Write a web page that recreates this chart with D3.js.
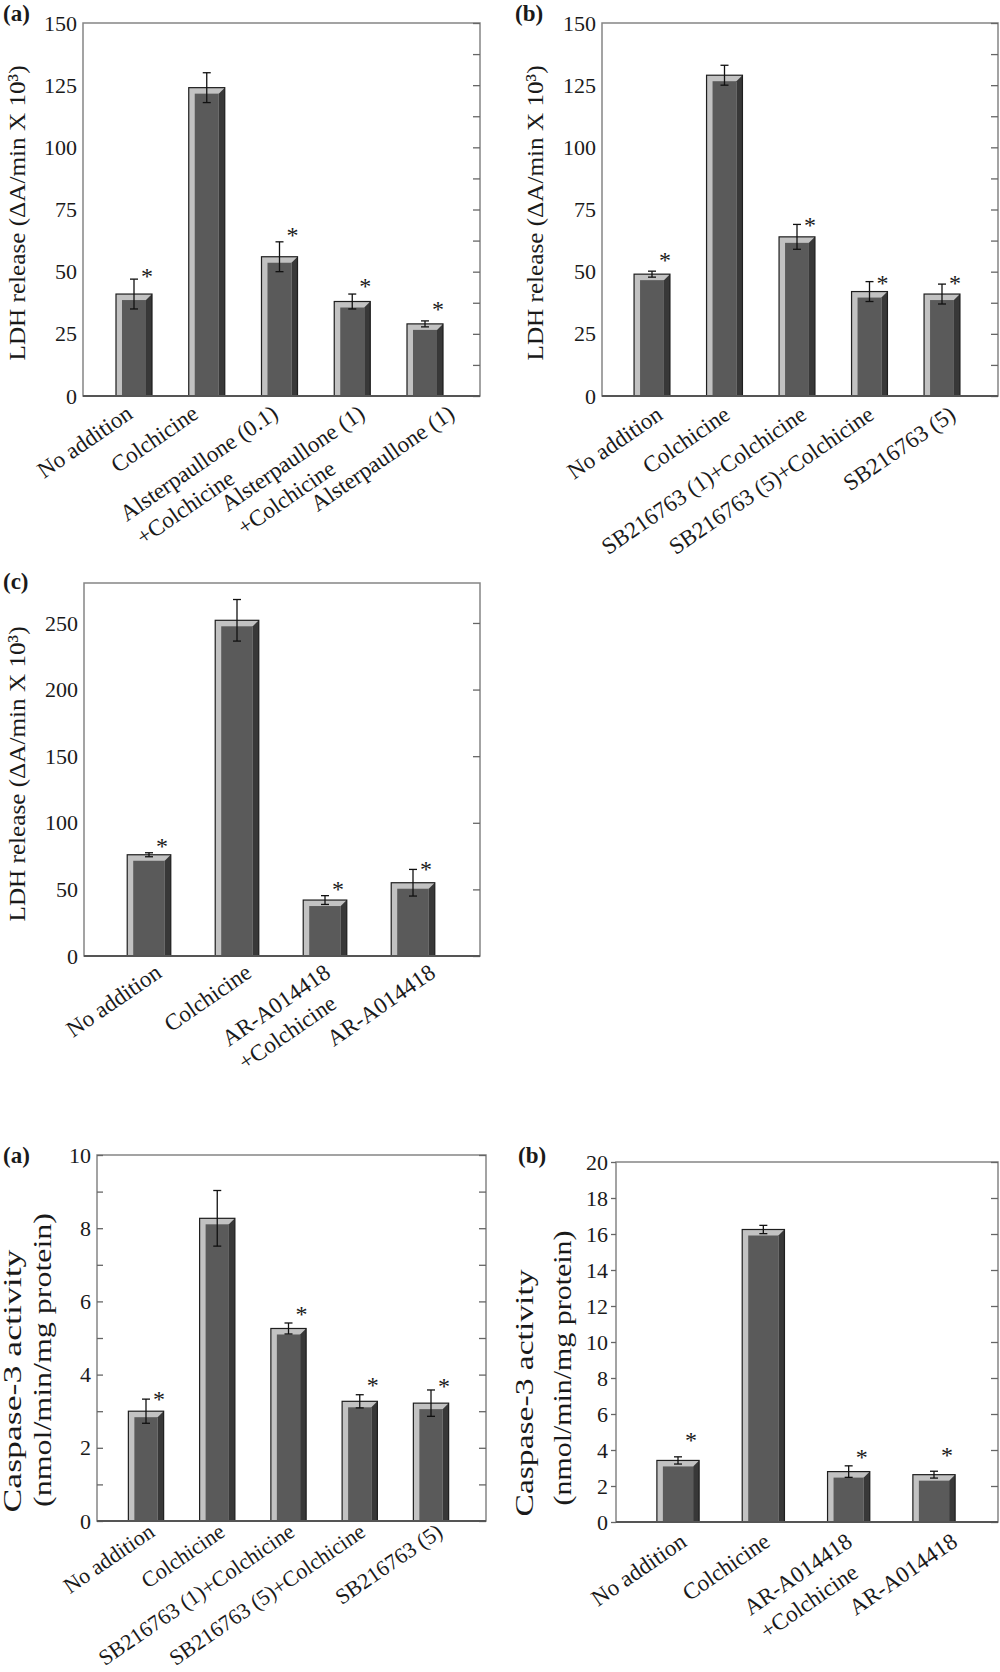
<!DOCTYPE html>
<html><head><meta charset="utf-8">
<script src="https://cdn.jsdelivr.net/npm/d3@7"></script>
<style>
body{margin:0;background:#fff}
svg{display:block}
text{font-family:"Liberation Serif","Times New Roman",serif;fill:#1a1a1a}
</style>
</head><body>
<svg id="fig" width="1000" height="1672"></svg>
<script>
// ---------------- DATA ----------------
const ldhA_categories = [["No addition"], ["Colchicine"], ["Alsterpaullone (0.1)", "+Colchicine"], ["Alsterpaullone (1)", "+Colchicine"], ["Alsterpaullone (1)"]];
const ldhA_values = [41, 124, 56, 38, 29];
const ldhA_errors = [6, 6, 6, 3, 1.2];
const ldhA_stars  = [49.3, null, 65.9, 45.4, 36.2];

const ldhB_categories = [["No addition"], ["Colchicine"], ["SB216763 (1)+Colchicine"], ["SB216763 (5)+Colchicine"], ["SB216763 (5)"]];
const ldhB_values = [49, 129, 64, 42, 41];
const ldhB_errors = [1.2, 4, 5, 4, 4];
const ldhB_stars  = [55.8, null, 69.8, 46.5, 46.5];

const ldhC_categories = [["No addition"], ["Colchicine"], ["AR-A014418", "+Colchicine"], ["AR-A014418"]];
const ldhC_values = [76, 252, 42, 55];
const ldhC_errors = [1.5, 15.6, 3.3, 10];
const ldhC_stars  = [84.8, null, 52.3, 67.3];

const caspA_categories = [["No addition"], ["Colchicine"], ["SB216763 (1)+Colchicine"], ["SB216763 (5)+Colchicine"], ["SB216763 (5)"]];
const caspA_values = [3.0, 8.27, 5.26, 3.27, 3.22];
const caspA_errors = [0.33, 0.76, 0.15, 0.18, 0.36];
const caspA_stars  = [3.41, null, 5.74, 3.80, 3.77];

const caspB_categories = [["No addition"], ["Colchicine"], ["AR-A014418", "+Colchicine"], ["AR-A014418"]];
const caspB_values = [3.42, 16.25, 2.8, 2.63];
const caspB_errors = [0.2, 0.23, 0.32, 0.19];
const caspB_stars  = [4.72, null, 3.8, 3.89];

const ldhAB_ticks = [0, 25, 50, 75, 100, 125, 150];
const ldhAB_minor = [0, 12.5, 25, 37.5, 50, 62.5, 75, 87.5, 100, 112.5, 125, 137.5, 150];
const ldhC_ticks = [0, 50, 100, 150, 200, 250];
const caspA_ticks = [0, 2, 4, 6, 8, 10];
const caspA_minor = [0, 1, 2, 3, 4, 5, 6, 7, 8, 9, 10];
const caspB_ticks = [0, 2, 4, 6, 8, 10, 12, 14, 16, 18, 20];

const ldhTitle = ["LDH release (\u0394A/min X 10\u00B3)"];
const caspTitle = ["Caspase-3  activity", "(nmol/min/mg protein)"];

// ---------------- LAYOUT ----------------
const panels = [
  {label:"(a)", lx:3, ly:21, x0:83, x1:480, y0:23, y1:396, padL:51, padR:55, domain:[0,150],
   ticks:ldhAB_ticks, rightTicks:ldhAB_minor, leftTicks:null, leftOut:false,
   cats:ldhA_categories, vals:ldhA_values, errs:ldhA_errors, stars:ldhA_stars,
   title:ldhTitle, titleX:[25], titleCY:[213], titleLen:[295], titleFs:24,
   labelDx:[0,-7,0,14,31], labelDy:21, labelFs:23},
  {label:"(b)", lx:515, ly:21, x0:602, x1:998, y0:23, y1:396, padL:50, padR:56, domain:[0,150],
   ticks:ldhAB_ticks, rightTicks:ldhAB_minor, leftTicks:null, leftOut:false,
   cats:ldhB_categories, vals:ldhB_values, errs:ldhB_errors, stars:ldhB_stars,
   title:ldhTitle, titleX:[543], titleCY:[213], titleLen:[295], titleFs:24,
   labelDx:[12,7,11,6,15], labelDy:22, labelFs:23},
  {label:"(c)", lx:3, ly:589, x0:84, x1:480, y0:583, y1:956, padL:65, padR:67, domain:[0,280],
   ticks:ldhC_ticks, rightTicks:ldhC_ticks, leftTicks:null, leftOut:false,
   cats:ldhC_categories, vals:ldhC_values, errs:ldhC_errors, stars:ldhC_stars,
   title:ldhTitle, titleX:[25], titleCY:[774], titleLen:[295], titleFs:24,
   labelDx:[14,16,7,24], labelDy:20, labelFs:23},
  {label:"(a)", lx:3, ly:1163, x0:97, x1:486, y0:1155, y1:1521, padL:49, padR:55, domain:[0,10],
   ticks:caspA_ticks, rightTicks:caspA_minor, leftTicks:caspA_minor, leftOut:false,
   cats:caspA_categories, vals:caspA_values, errs:caspA_errors, stars:caspA_stars,
   title:caspTitle, titleX:[21, 51], titleCY:[1381, 1360], titleLen:[263, 294], titleFs:25,
   labelDx:[10,9,7.5,7,13], labelDy:14, labelFs:22},
  {label:"(b)", lx:518, ly:1163, x0:616, x1:998, y0:1162, y1:1522, padL:62, padR:64, domain:[0,20],
   ticks:caspB_ticks, rightTicks:caspB_ticks, leftTicks:caspB_ticks, leftOut:true,
   cats:caspB_categories, vals:caspB_values, errs:caspB_errors, stars:caspB_stars,
   title:caspTitle, titleX:[533, 571], titleCY:[1393, 1368], titleLen:[247, 275], titleFs:25,
   labelDx:[10,8,5,25], labelDy:23, labelFs:23}
];

const svg = d3.select("#fig");
const ANGLE = -34.5;

panels.forEach(p => {
  const g = svg.append("g");
  const idx = d3.range(p.vals.length);
  const x = d3.scalePoint().domain(idx).range([p.x0 + p.padL, p.x1 - p.padR]);
  const step = x.step();
  const bw = step * 0.495;
  const y = d3.scaleLinear().domain(p.domain).range([p.y1, p.y0]);

  // frame
  g.append("rect").attr("x", p.x0).attr("y", p.y0).attr("width", p.x1 - p.x0).attr("height", p.y1 - p.y0)
    .attr("fill", "none").attr("stroke", "#858585").attr("stroke-width", 1.5);

  // right inward ticks
  const ra = d3.axisLeft(y).tickValues(p.rightTicks).tickSize(7).tickFormat("");
  const rg = g.append("g").attr("transform", `translate(${p.x1},0)`).call(ra);
  rg.select(".domain").remove();
  rg.selectAll("line").attr("stroke", "#666").attr("stroke-width", 1.3);

  // left ticks
  if (p.leftTicks) {
    const la = p.leftOut ? d3.axisLeft(y).tickSize(5) : d3.axisRight(y).tickSize(6);
    la.tickValues(p.leftTicks).tickFormat("");
    const lg = g.append("g").attr("transform", `translate(${p.x0},0)`).call(la);
    lg.select(".domain").remove();
    lg.selectAll("line").attr("stroke", "#666").attr("stroke-width", 1.3);
  }

  // tick labels
  const labOff = p.leftOut ? 8 : 6;
  const ta = d3.axisLeft(y).tickValues(p.ticks).tickSize(0).tickPadding(labOff).tickFormat(d3.format("d"));
  const tg = g.append("g").attr("transform", `translate(${p.x0},0)`).call(ta);
  tg.select(".domain").remove();
  tg.selectAll("text").attr("font-size", 22).attr("font-family", "Liberation Serif, serif").attr("fill", "#1a1a1a");

  // bars
  const b = 6;
  idx.forEach(i => {
    const cx = x(i), xl = cx - bw / 2, yt = y(p.vals[i]), yb = y(0);
    const bg = g.append("g");
    bg.append("rect").attr("x", xl).attr("y", yt).attr("width", bw).attr("height", yb - yt).attr("fill", "#c2c2c2");
    bg.append("polygon").attr("points", [[xl + bw - b, yt + b], [xl + bw, yt], [xl + bw, yb], [xl + bw - b, yb]].map(d => d.join(",")).join(" "))
      .attr("fill", "#383838");
    bg.append("rect").attr("x", xl + b).attr("y", yt + b).attr("width", bw - 2 * b).attr("height", yb - yt - b).attr("fill", "#5a5a5a");
    bg.append("rect").attr("x", xl).attr("y", yt).attr("width", bw).attr("height", yb - yt)
      .attr("fill", "none").attr("stroke", "#1e1e1e").attr("stroke-width", 1.2);
    // error bar
    const e1 = y(p.vals[i] + p.errs[i]), e2 = y(p.vals[i] - p.errs[i]);
    const eg = g.append("g").attr("stroke", "#111").attr("stroke-width", 1.3);
    eg.append("line").attr("x1", cx).attr("x2", cx).attr("y1", e1).attr("y2", e2);
    eg.append("line").attr("x1", cx - 4).attr("x2", cx + 4).attr("y1", e1).attr("y2", e1);
    eg.append("line").attr("x1", cx - 4).attr("x2", cx + 4).attr("y1", e2).attr("y2", e2);
    // star
    if (p.stars[i] != null) {
      g.append("text").attr("x", cx + 13).attr("y", y(p.stars[i]) + 11).attr("text-anchor", "middle")
        .attr("font-size", 24).text("*");
    }
    // category label
    const lt = g.append("text")
      .attr("transform", `translate(${cx + p.labelDx[i]},${p.y1 + p.labelDy}) rotate(${ANGLE})`)
      .attr("font-size", p.labelFs).attr("text-anchor", "start");
    const lines = p.cats[i];
    const spans = lines.map((s, k) => lt.append("tspan").attr("x", 0).attr("dy", k === 0 ? 0 : 29).text(s));
    const w1 = spans[0].node().getComputedTextLength();
    spans.forEach(s => s.attr("x", -w1));
  });

  // bottom axis line (darker)
  g.append("line").attr("x1", p.x0).attr("x2", p.x1).attr("y1", p.y1).attr("y2", p.y1)
    .attr("stroke", "#555").attr("stroke-width", 2);

  // y title
  p.title.forEach((t, k) => {
    g.append("text").attr("transform", `translate(${p.titleX[k]},${p.titleCY[k]}) rotate(-90)`)
      .attr("text-anchor", "middle").attr("font-size", p.titleFs)
      .attr("textLength", p.titleLen[k]).attr("lengthAdjust", "spacingAndGlyphs").text(t);
  });

  // panel label
  g.append("text").attr("x", p.lx).attr("y", p.ly).attr("font-size", 23).attr("font-weight", "bold").text(p.label);
});
</script>
</body></html>
